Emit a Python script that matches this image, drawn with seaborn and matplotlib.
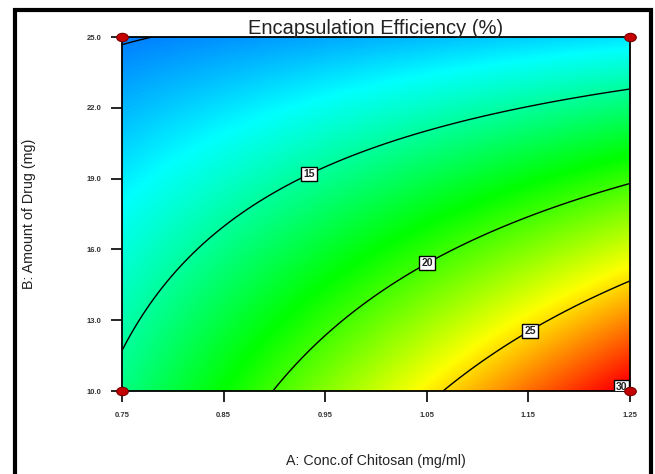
import numpy as np
import pandas as pd
import matplotlib
matplotlib.use("Agg")
import matplotlib.pyplot as plt
from matplotlib.colors import LinearSegmentedColormap
from matplotlib.patches import Rectangle
from matplotlib.path import Path
from matplotlib.transforms import Affine2D
import seaborn as sns

# Factor ranges (actual units)
chitosan_range = [0.75, 1.25]      # A: Conc. of Chitosan (mg/ml)
drug_range = [10.0, 25.0]          # B: Amount of Drug (mg)

# Quadratic model in coded factors: b0, A, B, AB, A^2, B^2
coef_terms = ["b0", "A", "B", "AB", "A2", "B2"]
coef_values = [17.31, 4.31, -5.99, -3.146, -0.036, -0.266]

plain_levels = [10]
label_levels = [15, 20, 25, 30]
label_spots = [(0.935, 19.1), (1.05, 15.45), (1.147, 12.9), (1.238, 10.45)]

# Design points shown on the plot
design_A = [0.75, 0.75, 1.25, 1.25]
design_B = [10.0, 25.0, 10.0, 25.0]

x_ticks = [0.75, 0.85, 0.95, 1.05, 1.15, 1.25]
y_ticks = [10.0, 13.0, 16.0, 19.0, 22.0, 25.0]

color_min, color_max = 7.0, 30.0
ramp_colors = ["#0000ff", "#00ffff", "#00ff00", "#ffff00", "#ff0000"]

sns.set_style("white")
plt.rcParams["font.family"] = ["Liberation Sans", "DejaVu Sans"]

fig = plt.figure(figsize=(6.55, 4.74), dpi=100)
ax = fig.add_axes([122 / 655, 1 - 391 / 474, 508 / 655, 354 / 474])

a = np.linspace(chitosan_range[0], chitosan_range[1], 500)
b = np.linspace(drug_range[0], drug_range[1], 500)
AA, BB = np.meshgrid(a, b)
x1 = (AA - np.mean(chitosan_range)) / (np.diff(chitosan_range)[0] / 2)
x2 = (BB - np.mean(drug_range)) / (np.diff(drug_range)[0] / 2)
c = dict(zip(coef_terms, coef_values))
EE = (c["b0"] + c["A"] * x1 + c["B"] * x2 + c["AB"] * x1 * x2
      + c["A2"] * x1 ** 2 + c["B2"] * x2 ** 2)

cmap = LinearSegmentedColormap.from_list("ramp", ramp_colors)
ax.pcolormesh(AA, BB, EE, cmap=cmap, vmin=color_min, vmax=color_max,
              shading="gouraud", rasterized=True)
ax.contour(AA, BB, EE, levels=plain_levels, colors="black", linewidths=1.0)
cs = ax.contour(AA, BB, EE, levels=label_levels, colors="black",
                linewidths=1.0)
labels = ax.clabel(cs, manual=label_spots, inline=False, fmt="%d",
                   fontsize=7.5)
for t in labels:
    t.set_rotation(0)
    t.set_fontweight("bold")
    t.set_color("#222222")
    t.set_bbox(dict(facecolor="white", edgecolor="black", linewidth=1.0,
                    boxstyle="square,pad=0.2"))

# Design points as small red ellipses
ellipse = Path.unit_circle().transformed(Affine2D().scale(1.25, 0.9))
pts = pd.DataFrame({"A": design_A, "B": design_B})
sns.scatterplot(data=pts, x="A", y="B", ax=ax, marker=ellipse, s=70,
                color="#c40000", edgecolor="#7a0000", linewidth=0.8,
                clip_on=False, zorder=10, legend=False)

ax.set_xlim(chitosan_range)
ax.set_ylim(drug_range)
ax.set_xticks(x_ticks)
ax.set_yticks(y_ticks)
ax.set_xticklabels([f"{v:.2f}" for v in x_ticks], fontsize=5.5,
                   fontweight="bold", color="#333333")
ax.set_yticklabels([f"{v:.1f}" for v in y_ticks], fontsize=5.5,
                   fontweight="bold", color="#333333")
ax.tick_params(axis="both", direction="out", length=8, width=1.2,
               pad=7, color="black", bottom=True, left=True)
for s in ax.spines.values():
    s.set_color("black")
    s.set_linewidth(1.3)

ax.set_title("Encapsulation Efficiency (%)", fontsize=14.5, color="#222222",
             pad=2.5)
ax.set_xlabel("A: Conc.of Chitosan (mg/ml)", fontsize=10.3, color="#222222",
              labelpad=25)
ax.set_ylabel("B: Amount of Drug (mg)", fontsize=10.3, color="#222222",
              labelpad=36)

# Outer frame around the figure
fig.patches.append(Rectangle((15 / 655, -0.05), (650.5 - 15) / 655,
                             1 - 9.5 / 474 + 0.05, transform=fig.transFigure,
                             fill=False, edgecolor="black", linewidth=3.0))

fig.savefig("out.png", dpi=100)
